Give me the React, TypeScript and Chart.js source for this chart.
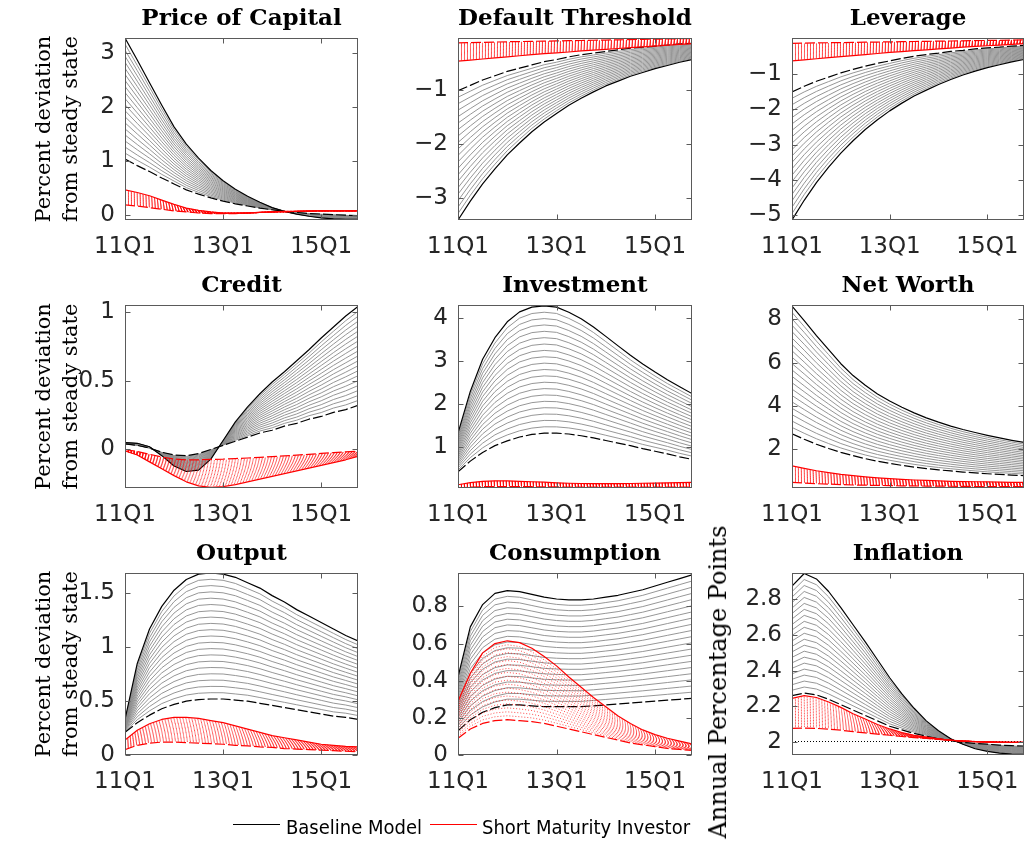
import React, { useEffect, useRef } from 'react';
import { Chart, registerables } from 'chart.js';

Chart.register(...registerables);

// ---------------- data ----------------
const QUARTERS = [1, 2, 3, 4, 5, 6, 7, 8, 9, 10, 11, 12, 13, 14, 15, 16, 17, 18, 19, 20];
const X_TICK_VALUES = [1, 9, 17];
const X_TICK_LABELS = ['11Q1', '13Q1', '15Q1'];
// relative position of the intermediate curves of each fan (between dashed and solid envelopes)
const FAN_WEIGHTS = [0.05, 0.1, 0.15, 0.2, 0.25, 0.3, 0.35, 0.4, 0.45, 0.5, 0.55, 0.6, 0.65, 0.7, 0.75, 0.8, 0.85, 0.9, 0.95];

const LEGEND_LABELS = ['Baseline Model', 'Short Maturity Investor'];
const Y_LABEL_LEFT = ['Percent deviation', 'from steady state'];
const Y_LABEL_INFLATION = 'Annual Percentage Points';

// Price of Capital
const PRICE_BASE_SOLID = [3.28, 2.87, 2.45, 2.03, 1.63, 1.31, 1.05, 0.82, 0.63, 0.47, 0.34, 0.23, 0.13, 0.06, 0.01, -0.03, -0.06, -0.08, -0.09, -0.09];
const PRICE_BASE_DASHED = [1.03, 0.91, 0.8, 0.68, 0.57, 0.46, 0.38, 0.31, 0.25, 0.2, 0.16, 0.12, 0.09, 0.06, 0.04, 0.02, 0.01, 0.0, -0.01, -0.02];
const PRICE_SHORT_SOLID = [0.46, 0.41, 0.35, 0.27, 0.19, 0.12, 0.08, 0.05, 0.03, 0.03, 0.03, 0.04, 0.05, 0.06, 0.06, 0.07, 0.07, 0.07, 0.07, 0.07];
const PRICE_SHORT_DASHED = [0.18, 0.16, 0.13, 0.1, 0.07, 0.05, 0.03, 0.02, 0.02, 0.02, 0.03, 0.04, 0.05, 0.05, 0.06, 0.06, 0.07, 0.07, 0.07, 0.07];
const PRICE_TICKS = [0, 1, 2, 3];

// Default Threshold
const DEFAULT_BASE_SOLID = [-3.41, -3.06, -2.74, -2.46, -2.2, -1.98, -1.77, -1.59, -1.43, -1.28, -1.15, -1.03, -0.92, -0.83, -0.74, -0.67, -0.6, -0.54, -0.48, -0.43];
const DEFAULT_BASE_DASHED = [-1.01, -0.91, -0.81, -0.73, -0.65, -0.59, -0.53, -0.47, -0.43, -0.38, -0.34, -0.31, -0.28, -0.25, -0.22, -0.2, -0.18, -0.16, -0.14, -0.13];
const DEFAULT_SHORT_SOLID = [-0.46, -0.44, -0.42, -0.4, -0.38, -0.36, -0.34, -0.32, -0.305, -0.29, -0.27, -0.255, -0.24, -0.225, -0.21, -0.195, -0.18, -0.165, -0.15, -0.135];
const DEFAULT_SHORT_DASHED = [-0.12, -0.115, -0.11, -0.105, -0.1, -0.096, -0.092, -0.088, -0.084, -0.08, -0.076, -0.072, -0.068, -0.064, -0.06, -0.056, -0.052, -0.048, -0.044, -0.04];
const DEFAULT_TICKS = [-3, -2, -1];

// Leverage
const LEVERAGE_BASE_SOLID = [-5.14, -4.58, -4.08, -3.64, -3.24, -2.89, -2.57, -2.29, -2.04, -1.82, -1.62, -1.45, -1.29, -1.15, -1.02, -0.91, -0.81, -0.73, -0.65, -0.58];
const LEVERAGE_BASE_DASHED = [-1.5, -1.34, -1.2, -1.08, -0.96, -0.86, -0.77, -0.69, -0.62, -0.55, -0.49, -0.44, -0.4, -0.35, -0.32, -0.28, -0.25, -0.23, -0.2, -0.18];
const LEVERAGE_SHORT_SOLID = [-0.62, -0.59, -0.56, -0.53, -0.5, -0.47, -0.44, -0.41, -0.38, -0.355, -0.33, -0.305, -0.28, -0.255, -0.23, -0.21, -0.19, -0.17, -0.15, -0.13];
const LEVERAGE_SHORT_DASHED = [-0.12, -0.115, -0.11, -0.105, -0.1, -0.095, -0.09, -0.085, -0.08, -0.075, -0.07, -0.065, -0.06, -0.055, -0.05, -0.045, -0.04, -0.035, -0.03, -0.025];
const LEVERAGE_TICKS = [-5, -4, -3, -2, -1];

// Credit
const CREDIT_BASE_SOLID = [0.05, 0.045, 0.02, -0.045, -0.12, -0.16, -0.15, -0.07, 0.065, 0.2, 0.31, 0.405, 0.49, 0.565, 0.645, 0.725, 0.81, 0.89, 0.97, 1.04];
const CREDIT_BASE_DASHED = [0.04, 0.03, 0.01, -0.02, -0.04, -0.045, -0.03, 0.0, 0.03, 0.06, 0.09, 0.12, 0.14, 0.17, 0.19, 0.22, 0.24, 0.27, 0.29, 0.32];
const CREDIT_SHORT_SOLID = [-0.01, -0.04, -0.09, -0.14, -0.19, -0.235, -0.265, -0.275, -0.27, -0.255, -0.235, -0.215, -0.195, -0.175, -0.155, -0.135, -0.115, -0.095, -0.075, -0.05];
const CREDIT_SHORT_DASHED = [0.0, -0.015, -0.035, -0.055, -0.07, -0.075, -0.075, -0.072, -0.07, -0.066, -0.062, -0.057, -0.052, -0.047, -0.041, -0.035, -0.029, -0.023, -0.017, -0.012];
const CREDIT_TICKS = [0, 0.5, 1];

// Investment
const INVEST_BASE_SOLID = [1.33, 2.3, 3.05, 3.55, 3.92, 4.15, 4.26, 4.29, 4.26, 4.14, 3.99, 3.8, 3.58, 3.36, 3.14, 2.94, 2.75, 2.57, 2.41, 2.25];
const INVEST_BASE_DASHED = [0.43, 0.68, 0.88, 1.04, 1.15, 1.24, 1.3, 1.33, 1.33, 1.31, 1.27, 1.22, 1.16, 1.1, 1.04, 0.97, 0.91, 0.85, 0.78, 0.72];
const INVEST_SHORT_SOLID = [0.13, 0.18, 0.21, 0.22, 0.22, 0.21, 0.2, 0.19, 0.175, 0.165, 0.16, 0.155, 0.155, 0.155, 0.16, 0.165, 0.17, 0.175, 0.18, 0.185];
const INVEST_SHORT_DASHED = [0.06, 0.075, 0.085, 0.09, 0.09, 0.09, 0.085, 0.08, 0.08, 0.075, 0.075, 0.075, 0.075, 0.075, 0.075, 0.075, 0.075, 0.075, 0.075, 0.075];
const INVEST_TICKS = [1, 2, 3, 4];

// Net Worth
const NETWORTH_BASE_SOLID = [8.62, 7.95, 7.25, 6.6, 5.95, 5.4, 4.95, 4.55, 4.22, 3.93, 3.67, 3.44, 3.24, 3.06, 2.9, 2.76, 2.63, 2.51, 2.4, 2.3];
const NETWORTH_BASE_DASHED = [2.7, 2.45, 2.22, 2.02, 1.84, 1.69, 1.55, 1.43, 1.33, 1.24, 1.16, 1.09, 1.03, 0.98, 0.93, 0.89, 0.85, 0.82, 0.79, 0.76];
const NETWORTH_SHORT_SOLID = [1.22, 1.1, 0.99, 0.9, 0.82, 0.76, 0.71, 0.66, 0.62, 0.59, 0.56, 0.54, 0.52, 0.5, 0.49, 0.48, 0.47, 0.46, 0.45, 0.45];
const NETWORTH_SHORT_DASHED = [0.45, 0.42, 0.39, 0.37, 0.35, 0.33, 0.32, 0.31, 0.3, 0.29, 0.285, 0.28, 0.275, 0.27, 0.265, 0.26, 0.26, 0.255, 0.255, 0.25];
const NETWORTH_TICKS = [2, 4, 6, 8];

// Output
const OUTPUT_BASE_SOLID = [0.33, 0.85, 1.17, 1.38, 1.53, 1.63, 1.68, 1.69, 1.68, 1.65, 1.6, 1.55, 1.48, 1.42, 1.35, 1.29, 1.23, 1.17, 1.11, 1.06];
const OUTPUT_BASE_DASHED = [0.21, 0.3, 0.37, 0.43, 0.47, 0.5, 0.515, 0.52, 0.52, 0.51, 0.5, 0.48, 0.46, 0.44, 0.42, 0.4, 0.38, 0.36, 0.35, 0.33];
const OUTPUT_SHORT_SOLID = [0.14, 0.23, 0.29, 0.33, 0.35, 0.35, 0.34, 0.32, 0.3, 0.27, 0.24, 0.21, 0.18, 0.16, 0.14, 0.12, 0.1, 0.09, 0.08, 0.075];
const OUTPUT_SHORT_DASHED = [0.05, 0.09, 0.11, 0.12, 0.12, 0.115, 0.11, 0.105, 0.1, 0.09, 0.085, 0.075, 0.07, 0.06, 0.055, 0.05, 0.045, 0.04, 0.035, 0.03];
const OUTPUT_TICKS = [0, 0.5, 1, 1.5];

// Consumption
const CONS_BASE_SOLID = [0.42, 0.69, 0.81, 0.87, 0.885, 0.88, 0.865, 0.85, 0.84, 0.835, 0.835, 0.84, 0.85, 0.86, 0.875, 0.89, 0.91, 0.93, 0.95, 0.97];
const CONS_BASE_DASHED = [0.13, 0.19, 0.23, 0.255, 0.27, 0.27, 0.265, 0.26, 0.26, 0.26, 0.26, 0.265, 0.27, 0.275, 0.28, 0.285, 0.29, 0.295, 0.3, 0.305];
const CONS_SHORT_SOLID = [0.29, 0.44, 0.55, 0.6, 0.615, 0.605, 0.575, 0.53, 0.48, 0.42, 0.365, 0.31, 0.26, 0.21, 0.17, 0.135, 0.11, 0.09, 0.075, 0.06];
const CONS_SHORT_DASHED = [0.09, 0.14, 0.17, 0.185, 0.19, 0.185, 0.18, 0.17, 0.155, 0.14, 0.125, 0.11, 0.095, 0.08, 0.065, 0.055, 0.045, 0.035, 0.03, 0.025];
const CONS_TICKS = [0, 0.2, 0.4, 0.6, 0.8];

// Inflation
const INFL_BASE_SOLID = [2.87, 2.94, 2.91, 2.84, 2.75, 2.655, 2.56, 2.46, 2.36, 2.27, 2.19, 2.12, 2.065, 2.02, 1.99, 1.965, 1.95, 1.94, 1.935, 1.933];
const INFL_BASE_DASHED = [2.26, 2.275, 2.265, 2.24, 2.21, 2.18, 2.15, 2.12, 2.09, 2.07, 2.05, 2.035, 2.02, 2.01, 2.0, 1.995, 1.99, 1.985, 1.982, 1.98];
const INFL_SHORT_SOLID = [2.245, 2.26, 2.25, 2.225, 2.195, 2.16, 2.13, 2.1, 2.075, 2.055, 2.04, 2.03, 2.02, 2.012, 2.007, 2.004, 2.002, 2.001, 2.0, 2.0];
const INFL_SHORT_DASHED = [2.078, 2.08, 2.078, 2.074, 2.068, 2.06, 2.053, 2.046, 2.04, 2.033, 2.027, 2.022, 2.017, 2.012, 2.008, 2.005, 2.003, 2.001, 2.0, 2.0];
const INFL_TICKS = [2, 2.2, 2.4, 2.6, 2.8];

// ---------------- layout / style ----------------
const COLS = [
  { L: 125, R: 358, padL: 125, padR: 12 },
  { L: 458, R: 692, padL: 90, padR: 12 },
  { L: 792, R: 1024, padL: 90, padR: 3 },
];
const ROWS = [
  { T: 38, B: 220 },
  { T: 305, B: 488 },
  { T: 573, B: 755 },
];
const PAD_T = 36;
const PAD_B = 50;

const GRAY = '#8a8a8a';
const RED = '#ff0000';
const RED_DOT = 'rgba(255,0,0,0.7)';
const FRAME = '#5a5a5a';
const TEXT = '#262626';
const TICK_FONT = { family: "'DejaVu Sans', sans-serif", size: 23 };
const TITLE_FONT = { family: "'DejaVu Serif', serif", size: 23, weight: 'bold' as const, lineHeight: '26px' };
const YLABEL_FONT = { family: "'DejaVu Serif', serif", size: 21, lineHeight: '27px' };

type PanelDef = {
  title: string;
  baseSolid: number[];
  baseDashed: number[];
  shortSolid: number[];
  shortDashed: number[];
  yMin: number;
  yMax: number;
  yTicks: number[];
  refLine?: number;
  row: number;
  col: number;
};

const PANELS: PanelDef[] = [
  { title: 'Price of Capital', baseSolid: PRICE_BASE_SOLID, baseDashed: PRICE_BASE_DASHED, shortSolid: PRICE_SHORT_SOLID, shortDashed: PRICE_SHORT_DASHED, yMin: -0.1, yMax: 3.28, yTicks: PRICE_TICKS, row: 0, col: 0 },
  { title: 'Default Threshold', baseSolid: DEFAULT_BASE_SOLID, baseDashed: DEFAULT_BASE_DASHED, shortSolid: DEFAULT_SHORT_SOLID, shortDashed: DEFAULT_SHORT_DASHED, yMin: -3.41, yMax: -0.03, yTicks: DEFAULT_TICKS, row: 0, col: 1 },
  { title: 'Leverage', baseSolid: LEVERAGE_BASE_SOLID, baseDashed: LEVERAGE_BASE_DASHED, shortSolid: LEVERAGE_SHORT_SOLID, shortDashed: LEVERAGE_SHORT_DASHED, yMin: -5.14, yMax: 0.03, yTicks: LEVERAGE_TICKS, row: 0, col: 2 },
  { title: 'Credit', baseSolid: CREDIT_BASE_SOLID, baseDashed: CREDIT_BASE_DASHED, shortSolid: CREDIT_SHORT_SOLID, shortDashed: CREDIT_SHORT_DASHED, yMin: -0.28, yMax: 1.05, yTicks: CREDIT_TICKS, row: 1, col: 0 },
  { title: 'Investment', baseSolid: INVEST_BASE_SOLID, baseDashed: INVEST_BASE_DASHED, shortSolid: INVEST_SHORT_SOLID, shortDashed: INVEST_SHORT_DASHED, yMin: 0.055, yMax: 4.31, yTicks: INVEST_TICKS, row: 1, col: 1 },
  { title: 'Net Worth', baseSolid: NETWORTH_BASE_SOLID, baseDashed: NETWORTH_BASE_DASHED, shortSolid: NETWORTH_SHORT_SOLID, shortDashed: NETWORTH_SHORT_DASHED, yMin: 0.19, yMax: 8.67, yTicks: NETWORTH_TICKS, row: 1, col: 2 },
  { title: 'Output', baseSolid: OUTPUT_BASE_SOLID, baseDashed: OUTPUT_BASE_DASHED, shortSolid: OUTPUT_SHORT_SOLID, shortDashed: OUTPUT_SHORT_DASHED, yMin: 0, yMax: 1.69, yTicks: OUTPUT_TICKS, refLine: 0, row: 2, col: 0 },
  { title: 'Consumption', baseSolid: CONS_BASE_SOLID, baseDashed: CONS_BASE_DASHED, shortSolid: CONS_SHORT_SOLID, shortDashed: CONS_SHORT_DASHED, yMin: 0, yMax: 0.98, yTicks: CONS_TICKS, refLine: 0, row: 2, col: 1 },
  { title: 'Inflation', baseSolid: INFL_BASE_SOLID, baseDashed: INFL_BASE_DASHED, shortSolid: INFL_SHORT_SOLID, shortDashed: INFL_SHORT_DASHED, yMin: 1.93, yMax: 2.943, yTicks: INFL_TICKS, refLine: 2, row: 2, col: 2 },
];

const fmt = (v: number) => (v < 0 ? '\u2212' : '') + String(Math.abs(v));

function buildDatasets(p: PanelDef) {
  const layers: any[] = [];
  const series = (vals: number[], color: string, width: number, dash: number[]) => ({
    data: QUARTERS.map((q, i) => ({ x: q, y: vals[i] })),
    borderColor: color,
    borderWidth: width,
    borderDash: dash,
    pointRadius: 0,
    tension: 0,
    fill: false,
    borderCapStyle: 'butt',
    borderJoinStyle: 'round',
  });
  const blend = (a: number[], b: number[], w: number) => a.map((v, i) => v + (b[i] - v) * w);
  FAN_WEIGHTS.forEach((w) => layers.push(series(blend(p.baseDashed, p.baseSolid, w), GRAY, 0.9, [])));
  layers.push(series(p.baseDashed, '#000', 1.2, [10, 3]));
  layers.push(series(p.baseSolid, '#000', 1.2, []));
  FAN_WEIGHTS.forEach((w) => layers.push(series(blend(p.shortDashed, p.shortSolid, w), RED_DOT, 1, [1, 2])));
  layers.push(series(p.shortDashed, RED, 1.2, [10, 3]));
  layers.push(series(p.shortSolid, RED, 1.2, []));
  // higher order is painted first
  return layers.map((d, i) => ({ ...d, order: layers.length - i }));
}

function makeFramePlugin(refLine?: number) {
  return {
    id: 'matlabFrame',
    beforeDatasetsDraw(chart: any) {
      if (refLine === undefined) return;
      const { ctx, chartArea: a, scales } = chart;
      const y = Math.round(scales.y.getPixelForValue(refLine)) - 0.5;
      ctx.save();
      ctx.strokeStyle = '#000';
      ctx.lineWidth = 1;
      ctx.setLineDash([1, 2]);
      ctx.beginPath();
      ctx.moveTo(a.left, y);
      ctx.lineTo(a.right, y);
      ctx.stroke();
      ctx.restore();
    },
    afterDatasetsDraw(chart: any) {
      const { ctx, chartArea: a, scales } = chart;
      const l = Math.round(a.left) + 0.5;
      const r = Math.round(a.right) - 0.5;
      const t = Math.round(a.top) + 0.5;
      const b = Math.round(a.bottom) - 0.5;
      ctx.save();
      ctx.strokeStyle = FRAME;
      ctx.lineWidth = 1;
      ctx.setLineDash([]);
      ctx.strokeRect(l, t, r - l, b - t);
      ctx.beginPath();
      scales.x.ticks.forEach((tk: any) => {
        const x = Math.round(scales.x.getPixelForValue(tk.value)) + 0.5;
        ctx.moveTo(x, b);
        ctx.lineTo(x, b - 5);
        ctx.moveTo(x, t);
        ctx.lineTo(x, t + 5);
      });
      scales.y.ticks.forEach((tk: any) => {
        const y = Math.round(scales.y.getPixelForValue(tk.value)) + 0.5;
        ctx.moveTo(l, y);
        ctx.lineTo(l + 5, y);
        ctx.moveTo(r, y);
        ctx.lineTo(r - 5, y);
      });
      ctx.stroke();
      ctx.restore();
    },
  };
}

function PanelChart({ p }: { p: PanelDef }) {
  const ref = useRef<HTMLCanvasElement>(null);
  const col = COLS[p.col];
  const row = ROWS[p.row];
  const left = col.L - col.padL;
  const top = row.T - PAD_T;
  const width = col.R - col.L + col.padL + col.padR;
  const height = row.B - row.T + PAD_T + PAD_B;

  useEffect(() => {
    if (!ref.current) return;
    const showYTitle = p.col === 0;
    const chart = new Chart(ref.current, {
      type: 'line',
      data: { datasets: buildDatasets(p) },
      plugins: [makeFramePlugin(p.refLine)],
      options: {
        responsive: false,
        animation: false,
        events: [],
        layout: { padding: { top: 0, left: 0, right: col.padR, bottom: 0 } },
        plugins: {
          legend: { display: false },
          tooltip: { enabled: false },
          title: {
            display: true,
            text: p.title,
            fullSize: false,
            color: '#000',
            font: TITLE_FONT,
            padding: { top: 4, bottom: 6 },
          },
        },
        scales: {
          x: {
            type: 'linear',
            min: 1,
            max: 20,
            grid: { display: false, drawTicks: false },
            border: { display: false },
            ticks: {
              color: TEXT,
              font: TICK_FONT,
              padding: 13,
              maxRotation: 0,
              autoSkip: false,
              callback: (v: any) => {
                const i = X_TICK_VALUES.indexOf(Number(v));
                return i >= 0 ? X_TICK_LABELS[i] : '';
              },
            },
            afterBuildTicks: (s: any) => {
              s.ticks = X_TICK_VALUES.map((v) => ({ value: v }));
            },
            afterFit: (s: any) => {
              s.height = PAD_B;
              s.paddingLeft = 0;
              s.paddingRight = 0;
            },
          },
          y: {
            type: 'linear',
            min: p.yMin,
            max: p.yMax,
            grid: { display: false, drawTicks: false },
            border: { display: false },
            ticks: {
              color: TEXT,
              font: TICK_FONT,
              padding: 10,
              autoSkip: false,
              callback: (v: any) => fmt(Number(v)),
            },
            afterBuildTicks: (s: any) => {
              s.ticks = p.yTicks.map((v) => ({ value: v }));
            },
            afterFit: (s: any) => {
              s.width = col.padL;
              s.paddingTop = 0;
              s.paddingBottom = 0;
            },
            title: showYTitle
              ? { display: true, text: Y_LABEL_LEFT, color: '#000', font: YLABEL_FONT, padding: { top: 31, bottom: 0 } }
              : { display: false },
          },
        },
      } as any,
    });
    return () => chart.destroy();
  }, []);

  return (
    <canvas
      ref={ref}
      width={width}
      height={height}
      style={{ position: 'absolute', left, top, width, height }}
    />
  );
}

export default function App() {
  const legendFont = "20px 'DejaVu Sans Condensed', 'Liberation Sans Narrow', 'DejaVu Sans', sans-serif";
  return (
    <div
      style={{
        position: 'absolute',
        left: 0,
        top: 0,
        width: 1027,
        height: 846,
        overflow: 'hidden',
        background: '#fff',
      }}
    >
      {PANELS.map((p) => (
        <PanelChart key={p.title} p={p} />
      ))}
      <div
        style={{
          position: 'absolute',
          left: 718,
          top: 682,
          transform: 'translate(-50%, -50%) rotate(-90deg)',
          whiteSpace: 'nowrap',
          font: "24px 'DejaVu Serif', serif",
          color: '#000',
        }}
      >
        {Y_LABEL_INFLATION}
      </div>
      <div style={{ position: 'absolute', left: 233, top: 824, width: 47, height: 1, background: '#000' }} />
      <div
        style={{ position: 'absolute', left: 286, top: 827, transform: 'translateY(-50%)', whiteSpace: 'nowrap', font: legendFont, color: '#000' }}
      >
        {LEGEND_LABELS[0]}
      </div>
      <div style={{ position: 'absolute', left: 430, top: 824, width: 47, height: 1, background: RED }} />
      <div
        style={{ position: 'absolute', left: 482, top: 827, transform: 'translateY(-50%)', whiteSpace: 'nowrap', font: legendFont, color: '#000' }}
      >
        {LEGEND_LABELS[1]}
      </div>
    </div>
  );
}
